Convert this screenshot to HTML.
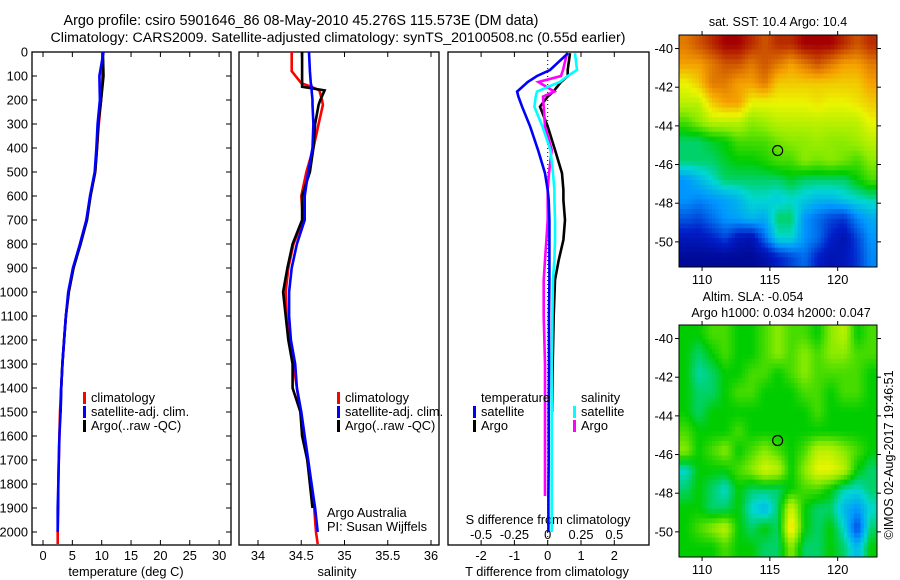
<!DOCTYPE html>
<html><head><meta charset="utf-8"><style>
body{margin:0;background:#fff;}
svg{display:block;font-family:"Liberation Sans",sans-serif;}
text{fill:#000;}
</style></head><body>
<svg id="fig" width="900" height="580" viewBox="0 0 900 580" xmlns="http://www.w3.org/2000/svg">
<rect width="900" height="580" fill="#fff"/>
<text x="301" y="25" font-size="14.4" text-anchor="middle">Argo profile: csiro 5901646_86 08-May-2010 45.276S 115.573E (DM data)</text>
<text x="338" y="42" font-size="14.2" text-anchor="middle">Climatology: CARS2009. Satellite-adjusted climatology: synTS_20100508.nc (0.55d earlier)</text>
<g id="p1"></g>
<g id="p2"></g>
<g id="p3"></g>
<g id="m1"></g>
<g id="m2"></g>
<text transform="translate(893,455) rotate(-90)" font-size="12.5" text-anchor="middle">©IMOS 02-Aug-2017 19:46:51</text>
</svg>
<script>
// ---- data ----
const tDepth = [0,100,200,300,400,500,600,700,800,900,1000,1100,1200,1300,1400,1500,1600,1700,1800,1900,2000,2050];
const tClim  = [10.1,10.1,9.9,9.5,9.2,8.9,8.1,7.4,6.3,5.2,4.4,3.9,3.6,3.3,3.1,2.9,2.8,2.7,2.6,2.6,2.5,2.5];
const tSat   = [10.3,9.6,9.7,9.3,9.1,8.8,8.0,7.4,6.3,5.1,4.3,3.9,3.6,3.3,3.1,3.0,2.8,2.7,2.6,2.5,2.5,2.5];
const tArgo  = [10.2,10.3,9.9,9.4,9.2,8.9,8.1,7.5,6.4,5.2,4.4,3.9,3.6,3.3,3.1,3.0,2.8,2.7,2.6,2.6,2.5,2.5];
const sDepth = [0,80,130,145,160,200,220,300,400,500,600,700,800,900,1000,1100,1200,1300,1400,1500,1600,1700,1800,1900,2000,2050];
const sClim  = [34.39,34.39,34.50,34.62,34.71,34.74,34.75,34.70,34.64,34.56,34.50,34.52,34.41,34.35,34.32,34.33,34.36,34.41,34.45,34.49,34.53,34.57,34.61,34.65,34.67,34.69];
const sSat   = [34.59,34.60,34.61,34.62,34.62,34.63,34.63,34.64,34.63,34.58,34.54,34.54,34.45,34.39,34.36,34.36,34.38,34.43,34.45,34.50,34.54,34.58,34.62,34.66,34.69,34.69];
const sArgo  = [34.51,34.51,34.51,34.51,34.77,34.72,34.70,34.66,34.64,34.60,34.51,34.51,34.40,34.34,34.29,34.32,34.35,34.40,34.40,34.49,34.51,34.57,34.60,34.63,34.66,34.66];
const dDepth = [5,75,100,125,165,186,228,310,408,505,575,617,700,783,867,950,1100,1300,1500,1700,1850,2000];
const dTSat  = [0.61,0.07,-0.32,-0.6,-0.92,-0.88,-0.77,-0.53,-0.29,-0.08,0,0.03,0.05,0.05,0.05,0.05,0.04,0.04,0.03,0.03,0.02,0.02];
const dTArgo = [0.67,0.6,0.6,0.4,0.17,0,-0.23,0,0.22,0.43,0.47,0.47,0.52,0.47,0.33,0.22,0.18,0.15,0.13,0.12,0.1,0.1];
const dSSat  = [0.205,0.22,0.15,0.09,-0.08,-0.09,-0.1,-0.04,0.02,0.04,0.05,0.05,0.055,0.055,0.05,0.04,0.035,0.03,0.03,0.03,0.03,0.03];
const dSArgo = [0.145,0.115,0.1,-0.07,0.05,-0.035,-0.03,-0.02,0.03,0.01,0,0,0,-0.01,-0.02,-0.03,-0.03,-0.02,-0.02,-0.02,-0.02,-0.01];
const depthTicks = [0,100,200,300,400,500,600,700,800,900,1000,1100,1200,1300,1400,1500,1600,1700,1800,1900,2000];
const tempTicks = [0,5,10,15,20,25,30];
const salTicks = [34,34.5,35,35.5,36];
const salTickLabels = ["34","34.5","35","35.5","36"];
const tdTicks = [-2,-1,0,1,2];
const sdTicks = [-0.5,-0.25,0,0.25,0.5];
const sdTickLabels = ["-0.5","-0.25","0","0.25","0.5"];
const latTicks = [-40,-42,-44,-46,-48,-50];
const lonTicks = [110,115,120];
const floatLon = 115.573, floatLat = -45.276;
const sstGrid = [
[0.85,0.9,0.95,1,1,0.95,0.9,0.95,0.95,1,1,1,0.95,0.9,0.95],
[0.8,0.8,0.85,0.9,0.9,0.85,0.9,0.85,0.8,0.85,0.9,0.85,0.8,0.8,0.85],
[0.7,0.75,0.85,0.85,0.8,0.8,0.85,0.75,0.75,0.75,0.75,0.75,0.75,0.75,0.8],
[0.65,0.65,0.75,0.8,0.8,0.7,0.7,0.7,0.7,0.7,0.72,0.7,0.7,0.72,0.75],
[0.55,0.6,0.65,0.65,0.65,0.6,0.62,0.65,0.65,0.65,0.65,0.65,0.65,0.65,0.7],
[0.45,0.45,0.48,0.5,0.55,0.55,0.55,0.58,0.6,0.6,0.62,0.6,0.6,0.62,0.65],
[0.45,0.45,0.45,0.48,0.5,0.5,0.52,0.55,0.55,0.6,0.58,0.6,0.58,0.55,0.6],
[0.3,0.35,0.4,0.45,0.45,0.45,0.45,0.45,0.48,0.45,0.45,0.45,0.45,0.5,0.55],
[0.3,0.28,0.3,0.32,0.35,0.4,0.4,0.38,0.4,0.38,0.35,0.35,0.38,0.4,0.42],
[0.22,0.2,0.25,0.3,0.32,0.35,0.33,0.45,0.45,0.3,0.25,0.2,0.18,0.28,0.33],
[0.12,0.12,0.15,0.2,0.12,0.1,0.25,0.4,0.4,0.3,0.25,0.15,0.1,0.2,0.3],
[0.05,0.05,0.05,0.05,0.05,0.05,0.08,0.15,0.2,0.25,0.15,0.1,0.12,0.18,0.28]];
const slaGrid = [
[.5,.5,.55,.55,.5,.5,.55,.6,.55,.55,.5,.6,.65,.5,.55],
[.5,.45,.5,.55,.5,.5,.55,.6,.55,.6,.55,.6,.6,.55,.55],
[.5,.42,.45,.5,.5,.55,.55,.5,.55,.6,.55,.55,.55,.55,.5],
[.5,.45,.45,.5,.55,.55,.5,.5,.5,.55,.55,.5,.55,.55,.5],
[.5,.45,.5,.5,.5,.5,.5,.5,.5,.5,.55,.5,.5,.5,.5],
[.55,.5,.5,.5,.55,.5,.5,.5,.5,.5,.5,.5,.5,.5,.5],
[.6,.5,.55,.6,.5,.55,.6,.55,.5,.55,.65,.65,.6,.55,.5],
[.4,.5,.5,.5,.55,.6,.68,.65,.5,.6,.7,.7,.65,.5,.45],
[.45,.5,.45,.4,.5,.45,.45,.45,.5,.55,.55,.5,.42,.4,.45],
[.5,.5,.45,.45,.5,.4,.35,.45,.68,.5,.45,.45,.35,.3,.4],
[.5,.55,.6,.65,.5,.45,.5,.45,.75,.5,.45,.5,.4,.2,.45],
[.5,.5,.5,.55,.5,.5,.45,.45,.6,.45,.45,.5,.45,.35,.5]];

// ---- helpers ----
const NS="http://www.w3.org/2000/svg";
function mk(tag,parent,attrs){const e=document.createElementNS(NS,tag);for(const k in attrs)e.setAttribute(k,attrs[k]);parent.appendChild(e);return e;}
function txt(parent,x,y,s,size,anchor){const e=mk('text',parent,{x:x,y:y,'font-size':size,'text-anchor':anchor||'middle'});e.textContent=s;return e;}
const Y0=52, Y1=545;
const yD = d => Y0 + d*0.24;

function frame(g,x0,x1,name){
  const r=mk('rect',g,{x:x0,y:Y0,width:x1-x0,height:Y1-Y0,fill:'none',stroke:'#000','stroke-width':1.3});
  
  
}
function stepLine(g,xs,ds,xf,color,name,w){
  let p='';
  for(let i=0;i<xs.length;i++){
    const X=xf(xs[i]).toFixed(1), Y=yD(ds[i]).toFixed(1);
    p += (i===0?'M':'L')+X+' '+Y+' ';
  }
  const e=mk('path',g,{d:p,fill:'none',stroke:color,'stroke-width':w||2.6,'stroke-linejoin':'miter'});
  
  
}
function legend(g,x,y,items){
  items.forEach((it,i)=>{
    const b=mk('rect',g,{x:x,y:y+i*14-10,width:3,height:12,fill:it[1]});
    
    
    const t=txt(g,x+8,y+i*14,it[0],12.8,'start');
    
    
  });
}

// ---- panel 1: temperature ----
const p1=document.getElementById('p1');
const xT = v => 43 + v*5.87;
frame(p1,32,231,'temperature-frame');
depthTicks.forEach(d=>{
  mk('line',p1,{x1:32,x2:37,y1:yD(d),y2:yD(d),stroke:'#000'});
  mk('line',p1,{x1:226,x2:231,y1:yD(d),y2:yD(d),stroke:'#000'});
  const t=txt(p1,28,yD(d)+4.5,String(d),12.8,'end');
  
  
});
tempTicks.forEach(v=>{
  mk('line',p1,{x1:xT(v),x2:xT(v),y1:Y0,y2:Y0+5,stroke:'#000'});
  mk('line',p1,{x1:xT(v),x2:xT(v),y1:Y1-5,y2:Y1,stroke:'#000'});
  const t=txt(p1,xT(v),560,String(v),12.8);
  
  
});
{const t=txt(p1,126,576,'temperature (deg C)',12.8);

}
stepLine(p1,tClim,tDepth,xT,'#f00','temp-climatology-line');
stepLine(p1,tArgo.slice(0,16),tDepth.slice(0,16),xT,'#000','temp-argo-line');
stepLine(p1,tSat.slice(0,21),tDepth.slice(0,21),xT,'#00f','temp-satellite-line');
legend(p1,83,402,[['climatology','#f00'],['satellite-adj. clim.','#00f'],['Argo(..raw -QC)','#000']]);

// ---- panel 2: salinity ----
const p2=document.getElementById('p2');
const xS = v => 258 + (v-34)*86.5;
frame(p2,239,439,'salinity-frame');
salTicks.forEach((v,i)=>{
  mk('line',p2,{x1:xS(v),x2:xS(v),y1:Y0,y2:Y0+5,stroke:'#000'});
  mk('line',p2,{x1:xS(v),x2:xS(v),y1:Y1-5,y2:Y1,stroke:'#000'});
  const t=txt(p2,xS(v),560,salTickLabels[i],12.8);
  
  
});
{const t=txt(p2,337,576,'salinity',12.8);

}
stepLine(p2,sClim,sDepth,xS,'#f00','sal-climatology-line');
stepLine(p2,sArgo.slice(0,24),sDepth.slice(0,24),xS,'#000','sal-argo-line');
stepLine(p2,sSat.slice(0,25),sDepth.slice(0,25),xS,'#00f','sal-satellite-line');
legend(p2,337,402,[['climatology','#f00'],['satellite-adj. clim.','#00f'],['Argo(..raw -QC)','#000']]);
{const t=txt(p2,327,517,'Argo Australia',12.8,'start');


const t2=txt(p2,327,531,'PI: Susan Wijffels',12.8,'start');

}

// ---- panel 3: differences ----
const p3=document.getElementById('p3');
const xTD = v => 547.7 + v*33.3;
const xSD = v => 547.7 + v*133.2;
frame(p3,448,649,'difference-frame');
{const z=mk('line',p3,{x1:xTD(0),x2:xTD(0),y1:Y0,y2:Y1,stroke:'#000','stroke-dasharray':'1,3'});

}
tdTicks.forEach(v=>{
  mk('line',p3,{x1:xTD(v),x2:xTD(v),y1:Y0,y2:Y0+5,stroke:'#000'});
  mk('line',p3,{x1:xTD(v),x2:xTD(v),y1:Y1-5,y2:Y1,stroke:'#000'});
  const t=txt(p3,xTD(v),560,String(v),12.8);
  
  
});
sdTicks.forEach((v,i)=>{
  const t=txt(p3,xSD(v),539,sdTickLabels[i],12.8);
  
  
});
{const t=txt(p3,548,524,'S difference from climatology',12.8);


const t2=txt(p3,547,576,'T difference from climatology',12.8);

}
stepLine(p3,dTArgo.slice(0,19),dDepth.slice(0,19),xTD,'#000','t-diff-argo-line');
stepLine(p3,dSArgo.slice(0,21),dDepth.slice(0,21),xSD,'#f0f','s-diff-argo-line');
stepLine(p3,dSSat,dDepth,xSD,'#0ff','s-diff-satellite-line');
stepLine(p3,dTSat,dDepth,xTD,'#00f','t-diff-satellite-line');
{const t=txt(p3,481,402,'temperature',12.8,'start');


const t2=txt(p3,581,402,'salinity',12.8,'start');

}
legend(p3,473,416,[['satellite','#00f'],['Argo','#000']]);
legend(p3,573,416,[['satellite','#0ff'],['Argo','#f0f']]);

// ---- maps ----
const stops=[[0,[0,0,128]],[0.15,[0,30,200]],[0.3,[0,150,255]],[0.4,[0,215,210]],[0.5,[0,205,0]],[0.6,[140,235,0]],[0.7,[235,245,0]],[0.8,[245,160,0]],[0.9,[205,85,0]],[1,[165,0,0]]];
function cmap(v){
  for(let i=1;i<stops.length;i++){ if(v<=stops[i][0]){const a=stops[i-1],b=stops[i],f=(v-a[0])/(b[0]-a[0]);
    return 'rgb('+a[1].map((c,k)=>Math.round(c+(b[1][k]-c)*f)).join(',')+')';}}
  return 'rgb(165,0,0)';
}
function sample(grid,fr,fc){
  const rows=grid.length, cols=grid[0].length;
  fr=Math.max(0,Math.min(rows-1,fr)); fc=Math.max(0,Math.min(cols-1,fc));
  const r0=Math.floor(fr), c0=Math.floor(fc), r1=Math.min(rows-1,r0+1), c1=Math.min(cols-1,c0+1);
  const a=fr-r0, b=fc-c0;
  return grid[r0][c0]*(1-a)*(1-b)+grid[r0][c1]*(1-a)*b+grid[r1][c0]*a*(1-b)+grid[r1][c1]*a*b;
}
function drawMap(g,top,grid,name){
  const L=679,R=877,B=top+232;
  const lonMin=108.3, lonMax=122.9, latMax=-39.3, latMin=-51.3;
  const xL = v => L + (v-lonMin)/(lonMax-lonMin)*(R-L);
  const yL = v => top + (latMax-v)/(latMax-latMin)*(B-top);
  const rows=grid.length, cols=grid[0].length, K=4;
  const NR=rows*K, NC=cols*K, cw=(R-L)/NC, ch=(B-top)/NR;
  for(let r=0;r<NR;r++){for(let c=0;c<NC;c++){
    const v=sample(grid,(r+0.5)/K-0.5,(c+0.5)/K-0.5);
    const e=mk('rect',g,{x:(L+c*cw).toFixed(2),y:(top+r*ch).toFixed(2),width:(cw+0.5).toFixed(2),height:(ch+0.5).toFixed(2),fill:cmap(v)});
    
    
  }}
  mk('rect',g,{x:L,y:top,width:R-L,height:B-top,fill:'none',stroke:'#000','stroke-width':1});
  latTicks.forEach(v=>{
    mk('line',g,{x1:L-4,x2:L,y1:yL(v),y2:yL(v),stroke:'#000'});
    mk('line',g,{x1:R,x2:R+4,y1:yL(v),y2:yL(v),stroke:'#000'});
    const t=txt(g,673,yL(v)+4.5,String(v),12.8,'end');
    
    
  });
  lonTicks.forEach(v=>{
    mk('line',g,{x1:xL(v),x2:xL(v),y1:top-4,y2:top,stroke:'#000'});
    mk('line',g,{x1:xL(v),x2:xL(v),y1:B,y2:B+4,stroke:'#000'});
    const t=txt(g,xL(v),B+17,String(v),12.8);
    
    
  });
  const c=mk('circle',g,{cx:xL(floatLon),cy:yL(floatLat),r:5,fill:'none',stroke:'#000','stroke-width':1.2});
  
  
}
const m1=document.getElementById('m1'), m2=document.getElementById('m2');
drawMap(m1,35,sstGrid,'sst');
drawMap(m2,325,slaGrid,'sla');
{const t=txt(m1,778,26,'sat. SST: 10.4 Argo: 10.4',12.5);


const t2=txt(m2,753,301,'Altim. SLA: -0.054',12.5);


const t3=txt(m2,781,317,'Argo h1000: 0.034 h2000: 0.047',12.5);

}
</script>
</body></html>
